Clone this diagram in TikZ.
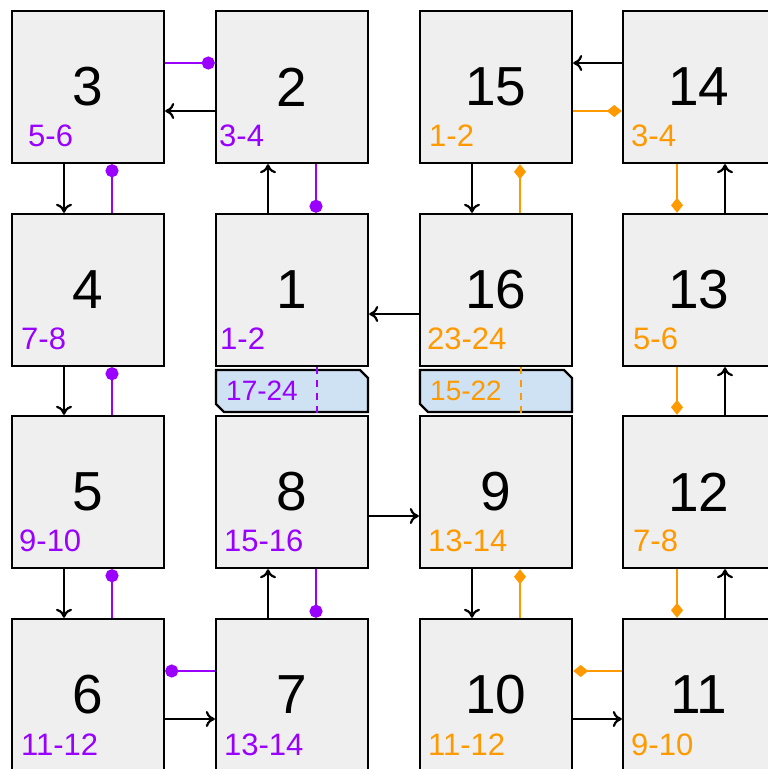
\documentclass[tikz,border=0pt]{standalone}
\usepackage{fontspec}
\setmainfont{Liberation Sans}
\usetikzlibrary{arrows.meta}
\definecolor{pur}{HTML}{9900FF}
\definecolor{org}{HTML}{FF9900}
\definecolor{boxfill}{HTML}{EFEFEF}
\definecolor{barfill}{HTML}{CFE2F3}
\begin{document}
\begin{tikzpicture}[x=1pt,y=-1pt,
  sq/.style={draw=black, line width=2.4pt, fill=boxfill, minimum width=152pt, minimum height=152pt, inner sep=0pt, font=\fontsize{55}{55}\selectfont},
  lab/.style={anchor=base west, inner sep=0pt, font=\fontsize{31}{31}\selectfont},
  barlab/.style={anchor=base west, inner sep=0pt, font=\fontsize{28}{28}\selectfont},
  barbox/.style={draw=black, line width=2.4pt, fill=barfill},
  blk/.style={draw=black, line width=2.2pt, -{To[length=9pt,width=16pt]}},
  pl/.style={draw=pur, line width=2.4pt, -{Circle[length=13pt]}},
  ol/.style={draw=org, line width=2.4pt, -{Turned Square[length=15pt,width=12pt]}},
  dl/.style={line width=2.4pt, dash pattern=on 7pt off 6pt}]
\useasboundingbox (0,0) rectangle (768,769);
\clip (0,0) rectangle (768,769);
% boxes
\node[sq] (b3) at (88,87) {3};
\node[sq] (b2) at (292,87) {2};
\node[sq] (b15) at (496,87) {15};
\node[sq] (b14) at (699,87) {14};
\node[sq] (b4) at (88,290) {4};
\node[sq] (b1) at (292,290) {1};
\node[sq] (b16) at (496,290) {16};
\node[sq] (b13) at (699,290) {13};
\node[sq] (b5) at (88,492) {5};
\node[sq] (b8) at (292,492) {8};
\node[sq] (b9) at (496,492) {9};
\node[sq] (b12) at (699,492) {12};
\node[sq] (b6) at (88,695) {6};
\node[sq] (b7) at (292,695) {7};
\node[sq] (b10) at (496,695) {10};
\node[sq] (b11) at (699,695) {11};
% labels
\node[lab, text=pur] (l3) at (28,146) {5-6};
\node[lab, text=pur] (l2) at (219,146) {3-4};
\node[lab, text=org] (l15) at (429,146) {1-2};
\node[lab, text=org] (l14) at (631,146) {3-4};
\node[lab, text=pur] (l4) at (21,349) {7-8};
\node[lab, text=pur] (l1) at (220,349) {1-2};
\node[lab, text=org] (l16) at (427,349) {23-24};
\node[lab, text=org] (l13) at (633,349) {5-6};
\node[lab, text=pur] (l5) at (19,551) {9-10};
\node[lab, text=pur] (l8) at (224,551) {15-16};
\node[lab, text=org] (l9) at (428,551) {13-14};
\node[lab, text=org] (l12) at (633,551) {7-8};
\node[lab, text=pur] (l6) at (21,755) {11-12};
\node[lab, text=pur] (l7) at (224,755) {13-14};
\node[lab, text=org] (l10) at (428,755) {11-12};
\node[lab, text=org] (l11) at (631,755) {9-10};
% bars
\draw[barbox] (216,370) -- (360,370) -- (368,378) -- (368,412) -- (224,412) -- (216,404) -- cycle;
\draw[barbox] (420,370) -- (564,370) -- (572,378) -- (572,412) -- (428,412) -- (420,404) -- cycle;
\node[barlab, text=pur] (bl1) at (226,400) {17-24};
\node[barlab, text=org] (bl2) at (430,400) {15-22};
\draw[dl, draw=pur] ([xshift=25pt]b1.south) -- ([xshift=25pt]b8.north);
\draw[dl, draw=org] ([xshift=25pt]b16.south) -- ([xshift=25pt]b9.north);
% black arrows
\draw[blk] ([yshift=-24pt]b2.west) -- ([yshift=-24pt]b3.east);
\draw[blk] ([xshift=-24pt]b3.south) -- ([xshift=-24pt]b4.north);
\draw[blk] ([xshift=-24pt]b1.north) -- ([xshift=-24pt]b2.south);
\draw[blk] ([yshift=-24pt]b16.west) -- ([yshift=-24pt]b1.east);
\draw[blk] ([xshift=-24pt]b4.south) -- ([xshift=-24pt]b5.north);
\draw[blk] ([xshift=-24pt]b5.south) -- ([xshift=-24pt]b6.north);
\draw[blk] ([yshift=-24pt]b6.east) -- ([yshift=-24pt]b7.west);
\draw[blk] ([xshift=-24pt]b7.north) -- ([xshift=-24pt]b8.south);
\draw[blk] ([yshift=-24pt]b8.east) -- ([yshift=-24pt]b9.west);
\draw[blk] ([xshift=-24pt]b9.south) -- ([xshift=-24pt]b10.north);
\draw[blk] ([yshift=-24pt]b10.east) -- ([yshift=-24pt]b11.west);
\draw[blk] ([xshift=26pt]b11.north) -- ([xshift=26pt]b12.south);
\draw[blk] ([xshift=26pt]b12.north) -- ([xshift=26pt]b13.south);
\draw[blk] ([xshift=26pt]b13.north) -- ([xshift=26pt]b14.south);
\draw[blk] ([yshift=24pt]b14.west) -- ([yshift=24pt]b15.east);
\draw[blk] ([xshift=-24pt]b15.south) -- ([xshift=-24pt]b16.north);
% purple connectors
\draw[pl] ([yshift=24pt]b3.east) -- ([yshift=24pt]b2.west);
\draw[pl] ([xshift=24pt]b4.north) -- ([xshift=24pt]b3.south);
\draw[pl] ([xshift=24pt]b2.south) -- ([xshift=24pt]b1.north);
\draw[pl] ([xshift=24pt]b5.north) -- ([xshift=24pt]b4.south);
\draw[pl] ([xshift=24pt]b6.north) -- ([xshift=24pt]b5.south);
\draw[pl] ([yshift=24pt]b7.west) -- ([yshift=24pt]b6.east);
\draw[pl] ([xshift=24pt]b8.south) -- ([xshift=24pt]b7.north);
% orange connectors
\draw[ol] ([yshift=-24pt]b15.east) -- ([yshift=-24pt]b14.west);
\draw[ol] ([xshift=24pt]b16.north) -- ([xshift=24pt]b15.south);
\draw[ol] ([xshift=-22pt]b14.south) -- ([xshift=-22pt]b13.north);
\draw[ol] ([xshift=-22pt]b13.south) -- ([xshift=-22pt]b12.north);
\draw[ol] ([xshift=-22pt]b12.south) -- ([xshift=-22pt]b11.north);
\draw[ol] ([xshift=24pt]b10.north) -- ([xshift=24pt]b9.south);
\draw[ol] ([yshift=24pt]b11.west) -- ([yshift=24pt]b10.east);
\end{tikzpicture}
\end{document}
